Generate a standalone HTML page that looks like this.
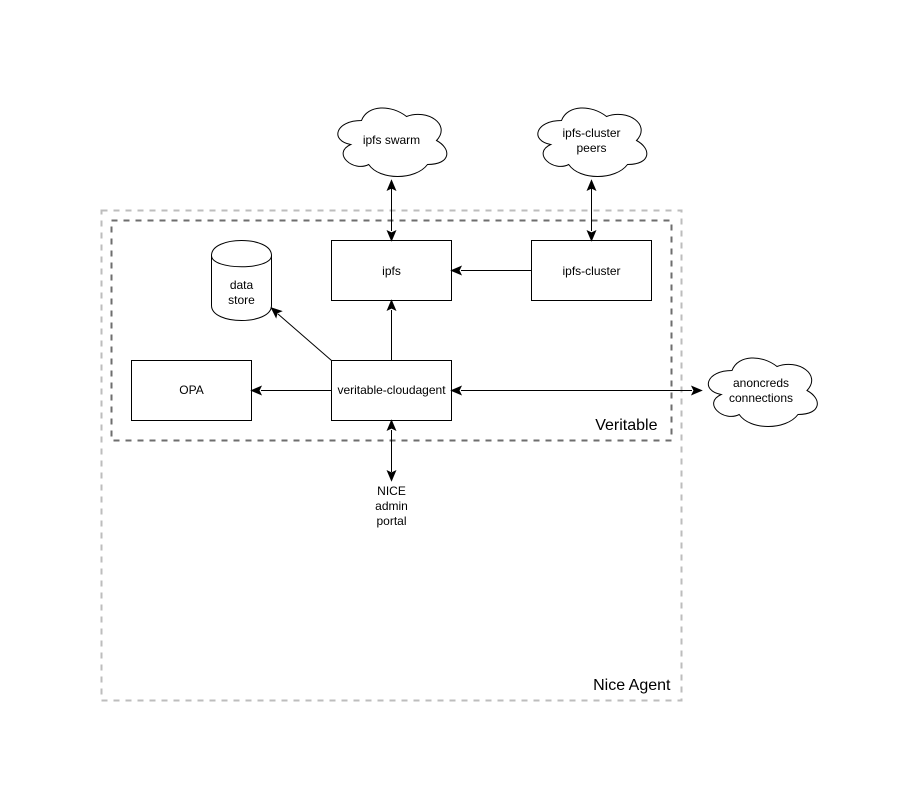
<!DOCTYPE html>
<html><head><meta charset="utf-8"><style>
html,body{margin:0;padding:0;background:#fff;width:922px;height:802px;overflow:hidden}
svg{display:block}
text{font-family:"Liberation Sans",Arial,sans-serif;font-size:12px;fill:#000;text-anchor:middle}
.l{font-size:16px;text-anchor:end}
</style></head><body>
<svg width="922" height="802" viewBox="0 0 922 802" xmlns="http://www.w3.org/2000/svg">
<defs>
<path id="c" d="M30 20C4 20 -2 40 19.2 44C0 52.8 21.6 72 37.2 64C48 80 84 80 96 64C120 64 120 48 105 40C120 24 96 8 75 16C60 4 36 4 30 20Z"/>
<path id="a" d="M0 0L-9.5 -4L-7.5 0L-9.5 4Z"/>
</defs>
<rect width="922" height="802" fill="#fff"/>
<rect x="101.5" y="210.5" width="580" height="490" fill="none" stroke="#bdbdbd" stroke-width="2" stroke-dasharray="6 6"/>
<rect x="111.5" y="220.5" width="560" height="220" fill="none" stroke="#6e6e6e" stroke-width="2" stroke-dasharray="6 6"/>
<g fill="#fff" stroke="#000" stroke-width="1">
<rect x="331.5" y="240.5" width="120" height="60"/>
<rect x="531.5" y="240.5" width="120" height="60"/>
<rect x="131.5" y="360.5" width="120" height="60"/>
<rect x="331.5" y="360.5" width="120" height="60"/>
<path d="M211.5 255.5C211.5 235.5 271.5 235.5 271.5 255.5L271.5 305.5C271.5 325.5 211.5 325.5 211.5 305.5Z"/>
<path d="M211.5 255.5C211.5 270.5 271.5 270.5 271.5 255.5" fill="none"/>
<use href="#c" transform="translate(331.5,100.5)"/>
<use href="#c" transform="translate(531.5,100.5)"/>
<use href="#c" transform="translate(702,350.5)"/>
</g>
<g stroke="#000" stroke-width="1" fill="none">
<path d="M391.5 187V231"/>
<path d="M591.5 187V231"/>
<path d="M531.5 270.5H461"/>
<path d="M391.5 360.5V310"/>
<path d="M331.5 360.5L278 314"/>
<path d="M331.5 390.5H261"/>
<path d="M461 390.5H692"/>
<path d="M391.5 430V472"/>
</g>
<g fill="#000" stroke="#000" stroke-width="1">
<use href="#a" transform="translate(391.5,180.5) rotate(-90)"/>
<use href="#a" transform="translate(391.5,240.5) rotate(90)"/>
<use href="#a" transform="translate(591.5,180.5) rotate(-90)"/>
<use href="#a" transform="translate(591.5,240.5) rotate(90)"/>
<use href="#a" transform="translate(451.5,270.5) rotate(180)"/>
<use href="#a" transform="translate(391.5,300.5) rotate(-90)"/>
<use href="#a" transform="translate(271.5,308) rotate(-139)"/>
<use href="#a" transform="translate(251.5,390.5) rotate(180)"/>
<use href="#a" transform="translate(451.5,390.5) rotate(180)"/>
<use href="#a" transform="translate(701.5,390.5)"/>
<use href="#a" transform="translate(391.5,420.5) rotate(-90)"/>
<use href="#a" transform="translate(391.5,480.5) rotate(90)"/>
</g>
<text x="391.5" y="144">ipfs swarm</text>
<text x="591.5" y="137">ipfs-cluster</text>
<text x="591.5" y="152">peers</text>
<text x="391.5" y="275">ipfs</text>
<text x="591.5" y="275">ipfs-cluster</text>
<text x="241.5" y="289">data</text>
<text x="241.5" y="304">store</text>
<text x="191.5" y="394">OPA</text>
<text x="391.5" y="394">veritable-cloudagent</text>
<text x="761" y="387">anoncreds</text>
<text x="761" y="402">connections</text>
<text x="391.5" y="495">NICE</text>
<text x="391.5" y="510">admin</text>
<text x="391.5" y="525">portal</text>
<text class="l" x="657.5" y="430">Veritable</text>
<text class="l" x="670.5" y="690">Nice Agent</text>
</svg>
</body></html>
